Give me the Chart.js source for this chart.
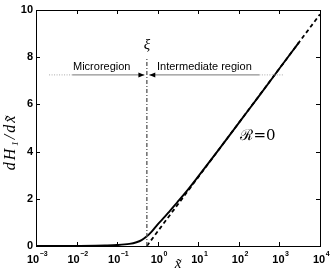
<!DOCTYPE html>
<html>
<head>
<meta charset="utf-8">
<script src="https://cdn.jsdelivr.net/npm/chart.js@4/dist/chart.umd.min.js"></script>
<style>
  html, body { margin: 0; padding: 0; background: #fff; }
  #wrap { width: 332px; height: 273px; }
</style>
</head>
<body>
<div id="wrap"><canvas id="chart" width="332" height="273"></canvas></div>
<script>
// R=0 curve
const solidX = [0.001, 0.003, 0.01, 0.03, 0.05, 0.1, 0.2, 0.3, 0.4, 0.54, 0.7, 1, 1.5, 2, 3, 5, 10, 30, 100, 300, 1000, 3000];
const solidY = [0, 0.001, 0.005, 0.012, 0.02, 0.04, 0.09, 0.16, 0.25, 0.41, 0.6, 0.92, 1.24, 1.49, 1.84, 2.29, 2.95, 4.02, 5.22, 6.31, 7.52, 8.62];

// dashed asymptote
const asymX = [0.54, 1, 10, 100, 1000, 10000];
const asymY = [0, 0.62, 2.92, 5.22, 7.52, 9.82];

// xi marker and region arrows
const xiX = [0.54, 0.54];
const xiY = [0, 8.0];
const arrowY = 7.25;
const microDotX = [0.0021, 0.0078];
const microLineX = [0.0078, 0.47];
const interLineX = [0.62, 320];
const interDotX = [320, 1300];

const xTicks = [-3, -2, -1, 0, 1, 2, 3, 4];
const yTicks = [0, 2, 4, 6, 8, 10];

function pts(xs, ys) {
    return xs.map((x, i) => ({ x: x, y: Array.isArray(ys) ? ys[i] : ys }));
}

function lineSet(data, color, width, dash) {
    return {
        data: data,
        borderColor: color,
        borderWidth: width,
        borderDash: dash || [],
        pointRadius: 0,
        showLine: true,
        fill: false,
        tension: 0
    };
}

const sansBold = 'bold 11px "Liberation Sans", Arial, sans-serif';
const serifIt = 'italic 15px "Liberation Serif", "DejaVu Serif", serif';

const matlabAxes = {
    id: 'matlabAxes',
    afterDraw(chart) {
        const ctx = chart.ctx;
        const a = chart.chartArea;
        const xs = chart.scales.x, ys = chart.scales.y;
        ctx.save();

        // box
        ctx.strokeStyle = '#000';
        ctx.lineWidth = 1;
        ctx.strokeRect(Math.round(a.left) + 0.5, Math.round(a.top) + 0.5,
            Math.round(a.right - a.left), Math.round(a.bottom - a.top));

        // inward ticks on all sides
        ctx.beginPath();
        xTicks.forEach(e => {
            const px = Math.round(xs.getPixelForValue(Math.pow(10, e))) + 0.5;
            ctx.moveTo(px, a.bottom); ctx.lineTo(px, a.bottom - 4);
            ctx.moveTo(px, a.top); ctx.lineTo(px, a.top + 4);
        });
        yTicks.forEach(v => {
            const py = Math.round(ys.getPixelForValue(v)) + 0.5;
            ctx.moveTo(a.left, py); ctx.lineTo(a.left + 4, py);
            ctx.moveTo(a.right, py); ctx.lineTo(a.right - 4, py);
        });
        ctx.stroke();

        // y tick labels
        ctx.fillStyle = '#000';
        ctx.font = sansBold;
        ctx.textAlign = 'right';
        ctx.textBaseline = 'middle';
        yTicks.forEach(v => ctx.fillText(String(v), a.left - 3, ys.getPixelForValue(v)));

        // x tick labels 10^e
        xTicks.forEach(e => {
            const px = xs.getPixelForValue(Math.pow(10, e));
            const ex = String(e).replace('-', '\u2212');
            ctx.font = sansBold;
            const wb = ctx.measureText('10').width;
            ctx.font = 'bold 7px "Liberation Sans", Arial, sans-serif';
            const we = ctx.measureText(ex).width;
            const x0 = px - (wb + we) / 2 + 1;
            ctx.textAlign = 'left';
            ctx.textBaseline = 'alphabetic';
            ctx.font = sansBold;
            ctx.fillText('10', x0, 263);
            ctx.font = 'bold 7px "Liberation Sans", Arial, sans-serif';
            ctx.fillText(ex, x0 + wb + 0.5, 256);
        });

        // arrowheads
        const ay = ys.getPixelForValue(arrowY);
        const tipR = xs.getPixelForValue(microLineX[1]);
        const tipL = xs.getPixelForValue(interLineX[0]);
        ctx.beginPath();
        ctx.moveTo(tipR, ay); ctx.lineTo(tipR - 6, ay - 2.5); ctx.lineTo(tipR - 6, ay + 2.5); ctx.closePath();
        ctx.moveTo(tipL, ay); ctx.lineTo(tipL + 6, ay - 2.5); ctx.lineTo(tipL + 6, ay + 2.5); ctx.closePath();
        ctx.fill();

        // region labels
        ctx.font = '11px "Liberation Sans", Arial, sans-serif';
        ctx.textBaseline = 'alphabetic';
        ctx.textAlign = 'left';
        ctx.fillText('Microregion', 73, 70);
        ctx.fillText('Intermediate region', 157, 70);

        // xi, R=0
        ctx.font = serifIt;
        ctx.textAlign = 'center';
        ctx.textBaseline = 'middle';
        ctx.fillText('\u03BE', xs.getPixelForValue(xiX[0]), 45);
        ctx.font = '15px "DejaVu Serif", "Liberation Serif", serif';
        ctx.fillText('\u211B=0', 258, 136);

        // axis titles
        ctx.font = serifIt;
        ctx.fillText('x\u0303', 178, 264);
        ctx.save();
        ctx.translate(11, 142);
        ctx.rotate(-Math.PI / 2);
        ctx.font = 'italic 16px "Liberation Serif", "DejaVu Serif", serif';
        ctx.letterSpacing = '2px';
        ctx.fillText('dH\u2081/dx\u0303', 0, 0);
        ctx.restore();

        ctx.restore();
    }
};

const solidSet = lineSet(pts(solidX, solidY), '#000', 1.9);
solidSet.cubicInterpolationMode = 'monotone';

const config = {
    type: 'scatter',
    data: {
        datasets: [
            lineSet(pts(microDotX, arrowY), '#aaa', 1, [1, 1.5]),
            lineSet(pts(microLineX, arrowY), '#777', 1),
            lineSet(pts(interLineX, arrowY), '#777', 1),
            lineSet(pts(interDotX, arrowY), '#aaa', 1, [1, 1.5]),
            lineSet(pts(xiX, xiY), '#555', 1.3, [4, 2, 1, 2]),
            lineSet(pts(asymX, asymY), '#000', 1.8, [4, 3]),
            solidSet
        ]
    },
    options: {
        responsive: false,
        animation: false,
        layout: { padding: { left: 36, right: 12, top: 10, bottom: 27 } },
        plugins: { legend: { display: false }, tooltip: { enabled: false } },
        scales: {
            x: { type: 'logarithmic', min: 0.001, max: 10000, display: false },
            y: { type: 'linear', min: 0, max: 10, display: false }
        }
    },
    plugins: [matlabAxes]
};

new Chart(document.getElementById('chart'), config);
</script>
</body>
</html>
